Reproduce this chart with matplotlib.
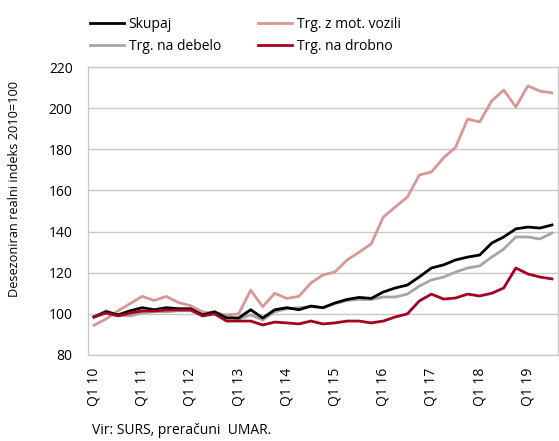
import numpy as np
import matplotlib
matplotlib.use("Agg")
import matplotlib.pyplot as plt

plt.rcParams["font.family"] = ["Open Sans", "DejaVu Sans"]
plt.rcParams["font.size"] = 10

# ==================================================
# Data (quarterly, Q1 2010 - Q3 2019)
# ==================================================
years = ["10", "11", "12", "13", "14", "15", "16", "17", "18", "19"]
n_quarters = 39

skupaj = [98.5, 101, 99.5, 101.5, 103, 102, 103, 102.5, 102.5, 99.5,
          101, 98, 98, 102, 98, 102, 103, 102, 103.8, 103,
          105.3, 107, 108, 107.5, 110.6, 112.6, 114, 118, 122.3, 123.8,
          126.2, 127.6, 128.6, 134.4, 137.4, 141.3, 142.2, 141.7, 143.2]

mot_vozila = [94.5, 97.5, 101.5, 105, 108.5, 106.5, 108.5, 105.5, 104, 101,
              100, 99.5, 100, 111.5, 103.5, 110, 107.5, 108.5, 115, 118.9,
              120.4, 126.2, 130, 134, 147, 152, 156.8, 167.5, 169, 175.8,
              181, 194.7, 193.3, 203.5, 208.8, 200.6, 210.8, 208.3, 207.4]

debelo = [98.5, 101.5, 99.5, 99, 100.5, 101, 101, 101.5, 101.5, 100,
          101, 99, 97.5, 99.5, 97, 101, 102.5, 103, 103.5, 103,
          105, 106.5, 107, 107, 108.2, 108.2, 109.6, 113.5, 116.5, 117.9,
          120.3, 122.3, 123.3, 127.6, 131.5, 137.4, 137.4, 136.4, 139.3]

drobno = [98.5, 100.4, 99, 100.4, 101.4, 101.4, 101.9, 101.9, 101.9, 99,
          100, 96.5, 96.5, 96.5, 94.6, 96, 95.6, 95.1, 96.5, 95.1,
          95.6, 96.5, 96.5, 95.6, 96.5, 98.5, 100, 106.3, 109.6, 107.2,
          107.7, 109.6, 108.7, 110, 112.6, 122.3, 119.4, 117.9, 117]

x = np.arange(n_quarters)
tick_pos = np.arange(0, n_quarters, 4)
tick_labels = ["Q1 " + y for y in years]

# ==================================================
# Plot
# ==================================================
fig = plt.figure(figsize=(5.59, 4.41), dpi=100)
ax = fig.add_axes([88 / 559, 1 - 355 / 441, 470 / 559, 288 / 441])

lw = 2.0
ax.plot(x, skupaj, color="#000000", lw=lw, label="Skupaj", zorder=4)
ax.plot(x, mot_vozila, color="#D99694", lw=lw, label="Trg. z mot. vozili", zorder=3)
ax.plot(x, debelo, color="#A6A6A6", lw=lw, label="Trg. na debelo", zorder=3)
ax.plot(x, drobno, color="#A50021", lw=lw, label="Trg. na drobno", zorder=5)

ax.set_xlim(-0.5, n_quarters - 0.5)
ax.set_ylim(80, 220)
ax.set_yticks(np.arange(80, 221, 20))
ax.set_xticks(tick_pos)
ax.set_xticklabels(tick_labels, rotation=90)
ax.tick_params(axis="both", length=0, labelsize=10)
ax.tick_params(axis="y", pad=11)
ax.tick_params(axis="x", pad=9)

ax.grid(axis="y", color="#C8C8C8", lw=1.0)
ax.set_axisbelow(True)
for s in ax.spines.values():
    s.set_color("#C8C8C8")
    s.set_linewidth(1.0)

ax.set_ylabel("Desezoniran realni indeks 2010=100", fontsize=9.2)
ax.yaxis.set_label_coords(-0.143, 0.575)

handles, labels = ax.get_legend_handles_labels()
order = [0, 2, 1, 3]
fig.legend([handles[i] for i in order], [labels[i] for i in order],
           ncol=2, loc="upper left", bbox_to_anchor=(80 / 559, 1 - 7 / 441),
           frameon=False, fontsize=10, handlelength=2.45, handletextpad=0.35,
           columnspacing=2.7, labelspacing=0.5, borderaxespad=0.3)

fig.text(92 / 559, 1 - 431 / 441, "Vir: SURS, preračuni  UMAR.", fontsize=10,
         va="center", ha="left")

fig.savefig("out.png", dpi=100)
